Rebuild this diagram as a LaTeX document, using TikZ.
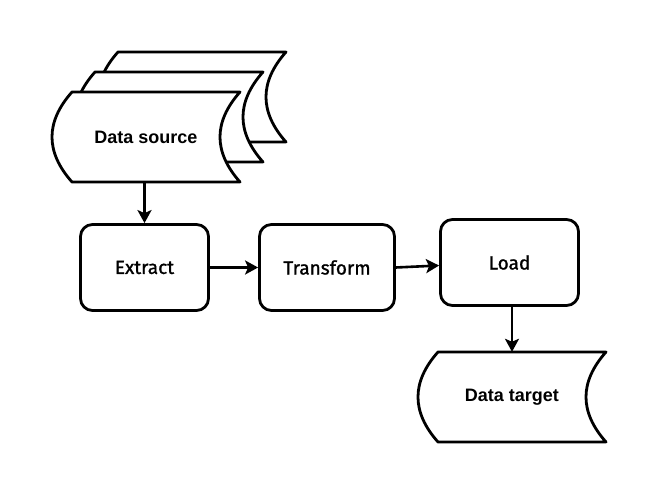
\documentclass[tikz,border=0pt]{standalone}
\usepackage{fontspec}
\setmainfont{Liberation Sans}
\newfontfamily\comicfont[FakeBold=1.2]{Fira Sans}
\usetikzlibrary{arrows.meta,calc}
\tikzset{
  storeline/.style={draw=black, fill=white, line width=2.8pt, line join=round},
  storetext/.style={minimum width=188pt, minimum height=90pt, inner sep=0pt, font=\fontsize{18}{20}\selectfont\bfseries},
  procbox/.style={draw=black, fill=white, line width=2.8pt, rounded corners=12pt, minimum height=86pt, inner sep=0pt, font=\comicfont\fontsize{19}{22}\selectfont},
  arr/.style={draw=black, line width=2.6pt, -{Stealth[length=13pt, width=14pt, inset=3pt]}}
}
\newcommand\dstorepath[4]{%
  \path[storeline] (#1+20,#2) -- (#1+#3,#2)
    .. controls (#1+#3-26.67,#2+#4/3) and (#1+#3-26.67,#2+2*#4/3) .. (#1+#3,#2+#4)
    -- (#1+20,#2+#4)
    .. controls (#1-6.67,#2+2*#4/3) and (#1-6.67,#2+#4/3) .. (#1+20,#2) -- cycle;}
\begin{document}
\begin{tikzpicture}[x=1pt, y=-1pt]
\useasboundingbox (0,0) rectangle (657,494);
% data source stack
\dstorepath{98}{52}{188}{90}
\dstorepath{75}{72}{188}{90}
\dstorepath{52}{92}{188}{90}
\node[storetext] (src) at (146,137) {Data source};
% data target
\dstorepath{418}{352}{188}{90}
\node[storetext] (tgt) at (512,397) {Data target};
% process boxes
\node[procbox, minimum width=128pt] (ext) at (144.5,267.5) {\raisebox{-1.5pt}{Extract}};
\node[procbox, minimum width=135pt] (trans) at (327,267.5) {\raisebox{-1.5pt}{Transform}};
\node[procbox, minimum width=138pt] (load) at (509.5,262.5) {\raisebox{-2.5pt}{Load}};
% connectors
\draw[arr] (src.south -| ext.north) -- (ext.north);
\draw[arr] (ext.east) -- (trans.west);
\draw[arr] (trans.east) -- ($(load.west)+(0,3)$);
\draw[arr] (load.south -| tgt.north) -- (tgt.north);
\end{tikzpicture}
\end{document}
